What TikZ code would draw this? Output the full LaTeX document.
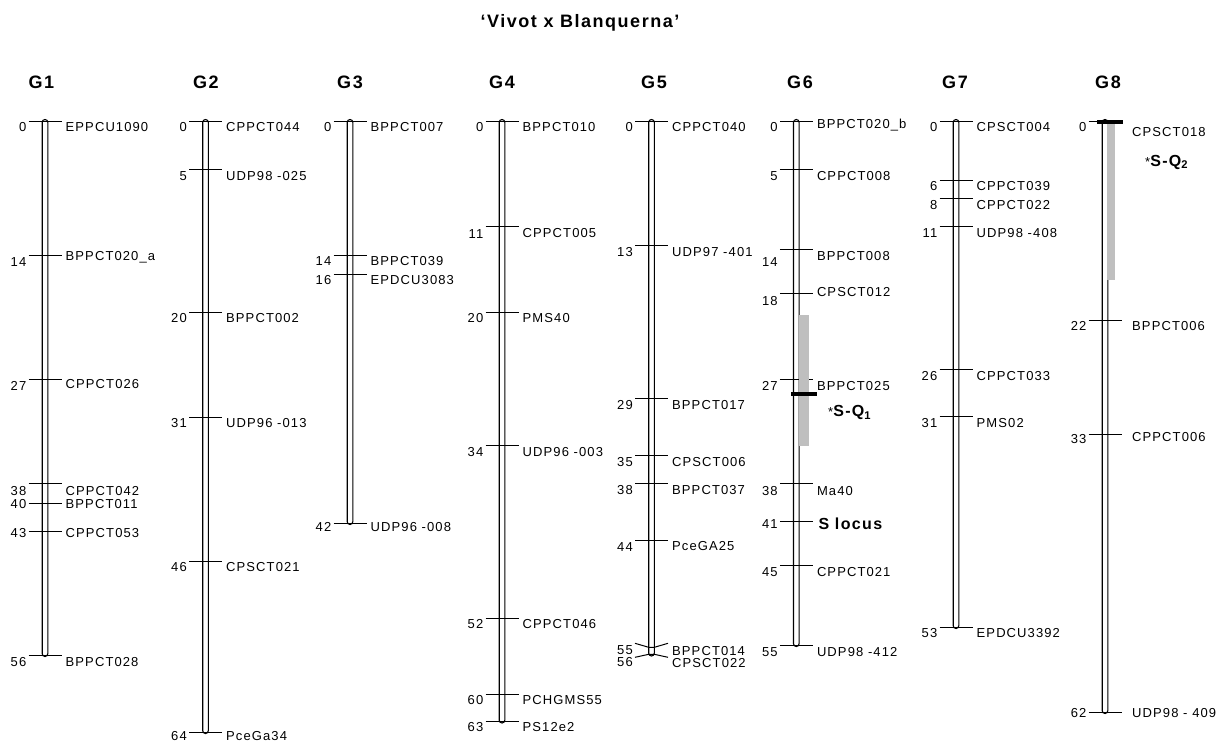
\documentclass[tikz,border=0pt]{standalone}
\usepackage{fontspec}
\setmainfont{Liberation Sans}[LetterSpace=8.5]
\begin{document}
\begin{tikzpicture}[x=1pt,y=-1pt,
  chromo/.style={draw=black,line width=1.1pt,rounded corners=2.8pt},
  tk/.style={draw=black,line width=1pt},
  num/.style={anchor=base east,inner sep=0pt,font=\fontsize{13}{15}\selectfont},
  lab/.style={anchor=base west,inner sep=0pt,font=\fontsize{13}{15}\selectfont},
  hdr/.style={anchor=base,inner sep=0pt,font=\fontsize{18}{20}\selectfont\bfseries},
  qtlbar/.style={fill=black!25,draw=none},
  qtlline/.style={draw=black,line width=4pt},
  qtlname/.style={anchor=base west,inner sep=0pt,font=\fontsize{16}{18}\selectfont\bfseries}]
\useasboundingbox (0,0) rectangle (1228,744);
\newcommand\chromosome[6]{%
  \draw[chromo] (#2-2.8,#3) rectangle (#2+2.8,#4);
  \foreach \t/\n/\nb/\l/\lb [count=\i] in {#6} {
    \draw[tk] (#2-16.5,\t) -- (#2+16.5,\t);
    \node[num] (#1n\i) at (#2-18.5,\nb) {\n};
    \node[lab] (#1l\i) at (#2+#5,\lb) {\l};
  }%
}
% title
\node[hdr] (title) at (580,27.3) {‘Vivot x Blanquerna’};
% headers
\node[hdr] (h1) at (41.5,88) {G1};
\node[hdr] (h2) at (206,88) {G2};
\node[hdr] (h3) at (350,88) {G3};
\node[hdr] (h4) at (502,88) {G4};
\node[hdr] (h5) at (654,88) {G5};
\node[hdr] (h6) at (800,88) {G6};
\node[hdr] (h7) at (955,88) {G7};
\node[hdr] (h8) at (1108,88) {G8};
% G1
\chromosome{a}{45}{119.5}{656.5}{20.5}{121/0/131.5/EPPCU1090/131.5,
 255/14/266/BPPCT020\_a/260.5, 379.5/27/390/CPPCT026/388.5,
 483.5/38/495/CPPCT042/495, 503/40/508.3/BPPCT011/508.3,
 531/43/537/CPPCT053/537, 655/56/666/BPPCT028/666}
% G2
\chromosome{b}{205.5}{119.5}{733.5}{20.5}{121/0/131.5/CPPCT044/131.5,
 169/5/180/UDP98 -025/180, 312/20/322.5/BPPCT002/322.5,
 417/31/427.5/UDP96 -013/427.5, 561/46/571/CPSCT021/571,
 732/64/740.5/PceGa34/740.5}
% G3
\chromosome{c}{350}{119.5}{524.5}{20.5}{121/0/131.5/BPPCT007/131.5,
 255.7/14/265.7/BPPCT039/265.7, 274/16/284.3/EPDCU3083/284.3,
 523/42/531.7/UDP96 -008/531.7}
% G4
\chromosome{d}{502}{119.5}{723}{20.5}{121/0/131/BPPCT010/131,
 226/11/238/CPPCT005/237.5, 312.5/20/322/PMS40/322,
 445/34/456/UDP96 -003/456, 618/52/628/CPPCT046/628,
 694/60/704/PCHGMS55/704, 721.7/63/731.5/PS12e2/731.5}
% G5
\chromosome{e}{651.5}{119.5}{656}{20.5}{121/0/131.5/CPPCT040/131.5,
 245.3/13/256.5/UDP97 -401/256.5, 398.3/29/409/BPPCT017/409,
 455.7/35/466/CPSCT006/466, 483.5/38/494/BPPCT037/494,
 540.6/44/551/PceGA25/550}
\draw[tk] (635,643.3) -- (648.7,647.3) -- (654.3,647.3) -- (668,643.3);
\draw[tk] (635,657.3) -- (648.7,654.3) -- (654.3,654.3) -- (668,657.3);
\node[num] (e55) at (633,654.3) {55};
\node[num] (e56) at (633,666.5) {56};
\node[lab] (e55l) at (672,655) {BPPCT014};
\node[lab] (e56l) at (672,667.3) {CPSCT022};
% G6
\chromosome{f}{796.3}{119.5}{646.5}{20.5}{121/0/131.5/BPPCT020\_b/128.3,
 169.3/5/180.5/CPPCT008/180.5, 249.3/14/266.5/BPPCT008/260.5,
 293.3/18/305/CPSCT012/296, 379.3/27/390.5/BPPCT025/390.5,
 483.3/38/495/Ma40/495, 565/45/576/CPPCT021/576,
 645/55/656.5/UDP98 -412/656.5}
\draw[tk] (779.8,521.7) -- (812.8,521.7);
\node[num] (f41) at (777.8,528.3) {41};
\node[qtlname] (slocus) at (818.3,529.5) {S locus};
\fill[qtlbar] (799,315) rectangle (809,446);
\draw[qtlline] (791,394) -- (817.3,394);
\node[qtlname] (sq1) at (828,416.7) {{\mdseries\fontsize{13}{15}\selectfont *}S-Q\textsubscript{1}};
% G7
\chromosome{g}{956}{119.5}{628.5}{20.5}{121.5/0/131.7/CPSCT004/131.7,
 180/6/190/CPPCT039/190, 198.3/8/209/CPPCT022/209,
 226/11/237.3/UDP98 -408/237.3, 369.3/26/380/CPPCT033/380,
 416.7/31/427.3/PMS02/427.3, 627/53/637.5/EPDCU3392/637.5}
% G8
\chromosome{h}{1105}{119.5}{713.5}{27}{121.7/0/131.7/CPSCT018/136.7,
 320/22/330/BPPCT006/330, 434/33/443/CPPCT006/441,
 712/62/717/UDP98 - 409/717}
\fill[qtlbar] (1106.7,122) rectangle (1115,280);
\draw[qtlline] (1097,121.7) -- (1123,121.7);
\node[qtlname] (sq2) at (1145,166) {{\mdseries\fontsize{13}{15}\selectfont *}S-Q\textsubscript{2}};
\end{tikzpicture}
\end{document}
